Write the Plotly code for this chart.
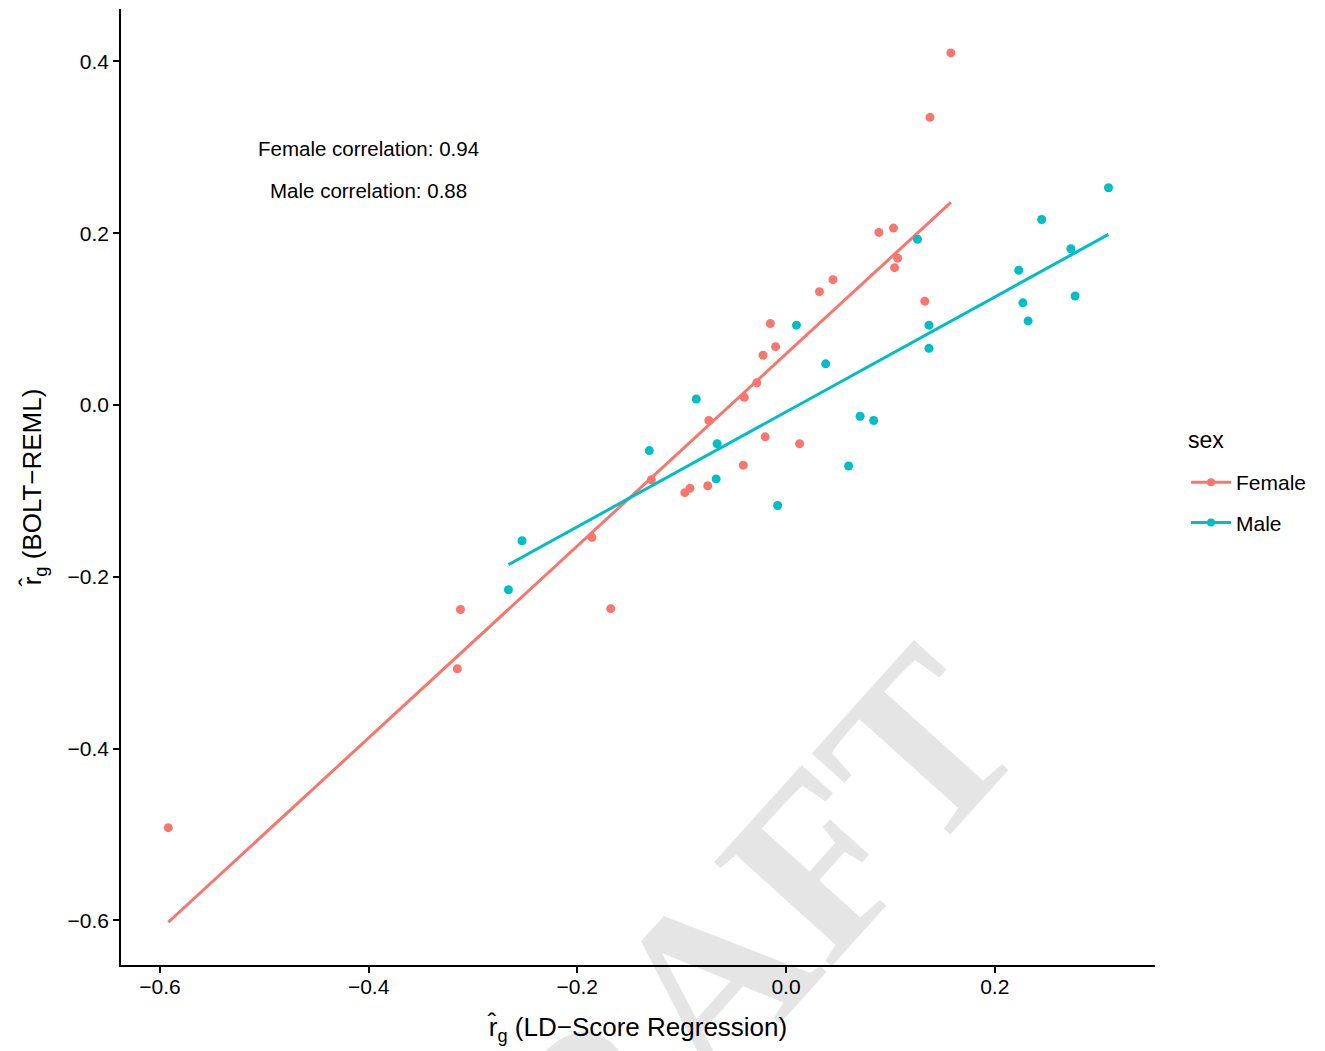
import numpy as np
import plotly.graph_objects as go

# ---- data ----
female_ldsc = [-0.592, -0.315, -0.312, -0.186, -0.168, -0.129, -0.097, -0.092, -0.075,
               -0.041, -0.020, 0.013, -0.074, -0.040, -0.028, -0.022, -0.015, -0.010,
               0.032, 0.045, 0.089, 0.103, 0.107, 0.104, 0.133, 0.158, 0.138]
female_reml = [-0.492, -0.307, -0.238, -0.154, -0.237, -0.087, -0.102, -0.097, -0.094,
               -0.070, -0.037, -0.045, -0.018, 0.009, 0.026, 0.058, 0.095, 0.068,
               0.132, 0.146, 0.201, 0.206, 0.171, 0.160, 0.121, 0.410, 0.335]
male_ldsc = [-0.266, -0.253, -0.131, -0.086, -0.066, -0.067, -0.008, 0.010, 0.038,
             0.071, 0.084, 0.060, 0.126, 0.137, 0.137, 0.223, 0.245, 0.227, 0.232,
             0.273, 0.277, 0.309]
male_reml = [-0.215, -0.158, -0.053, 0.007, -0.045, -0.086, -0.117, 0.093, 0.048,
             -0.013, -0.018, -0.071, 0.193, 0.093, 0.066, 0.157, 0.216, 0.119, 0.098,
             0.182, 0.127, 0.253]
sexes = ["Female", "Male"]
annotations_text = ["Female correlation: 0.94", "Male correlation: 0.88"]
x_ticks = [-0.6, -0.4, -0.2, 0.0, 0.2]
y_ticks = [-0.6, -0.4, -0.2, 0.0, 0.2, 0.4]

colors = {"Female": "#F8766D", "Male": "#00BFC4"}
data = {"Female": (female_ldsc, female_reml), "Male": (male_ldsc, male_reml)}

fig = go.Figure()

font_family = "Liberation Sans, Arial, sans-serif"

# DRAFT watermark
fig.add_annotation(x=0.557, y=-0.449, xref="paper", yref="paper", text="<b>DRAFT</b>",
                   showarrow=False, textangle=-48,
                   font=dict(size=240, color="rgba(0,0,0,0.1)",
                             family="Liberation Serif, Times New Roman, serif"))

for s in sexes:
    xs, ys = np.array(data[s][0]), np.array(data[s][1])
    fig.add_trace(go.Scatter(x=xs, y=ys, mode="markers",
                             marker=dict(color=colors[s], size=9),
                             showlegend=False, hoverinfo="x+y"))
    k, b = np.polyfit(xs, ys, 1)
    lx = np.array([xs.min(), xs.max()])
    fig.add_trace(go.Scatter(x=lx, y=k * lx + b, mode="lines",
                             line=dict(color=colors[s], width=3),
                             showlegend=False, hoverinfo="skip"))
    # legend entry (line + point like ggplot)
    fig.add_trace(go.Scatter(x=[None], y=[None], mode="lines+markers", name=s,
                             legendgroup=s,
                             line=dict(color=colors[s], width=3),
                             marker=dict(color=colors[s], size=8)))

fig.update_layout(
    width=1325, height=1051,
    margin=dict(l=121, r=170, t=9, b=86),
    paper_bgcolor="white", plot_bgcolor="white",
    font=dict(family=font_family, color="black"),
    showlegend=True,
    legend=dict(font=dict(size=21), x=1.03, xanchor="left", y=0.526, yanchor="top",
                tracegroupgap=10, itemwidth=40, bgcolor="rgba(0,0,0,0)"),
    xaxis=dict(range=[-0.6373, 0.3536], tickvals=x_ticks, tickformat=".1f",
               showgrid=False, zeroline=False, showline=True, linecolor="black",
               linewidth=1.6, ticks="outside", ticklen=6, tickwidth=1.6, tickcolor="black",
               tickfont=dict(size=21, color="black"), ticklabelstandoff=-4,
               title=dict(text="r\u0302<sub>g</sub> (LD\u2212Score Regression)",
                          font=dict(size=26), standoff=21)),
    yaxis=dict(range=[-0.6519, 0.4611], tickvals=y_ticks, tickformat=".1f",
               showgrid=False, zeroline=False, showline=True, linecolor="black",
               linewidth=1.6, ticks="outside", ticklen=6, tickwidth=1.6, tickcolor="black",
               tickfont=dict(size=21, color="black"),
               title=dict(text="r\u0302<sub>g</sub> (BOLT\u2212REML)",
                          font=dict(size=26), standoff=18)),
)

fig.add_annotation(x=-0.40, y=0.299, xref="x", yref="y", text=annotations_text[0],
                   showarrow=False, font=dict(size=20.5, color="black"))
fig.add_annotation(x=-0.40, y=0.250, xref="x", yref="y", text=annotations_text[1],
                   showarrow=False, font=dict(size=20.5, color="black"))

# legend title
fig.add_annotation(x=(1186 - 121) / 1034, y=(965 - 441) / 955, xref="paper", yref="paper",
                   text="sex", showarrow=False, xanchor="left", yanchor="middle",
                   font=dict(size=23, color="black"))

fig.write_html("out.html")
